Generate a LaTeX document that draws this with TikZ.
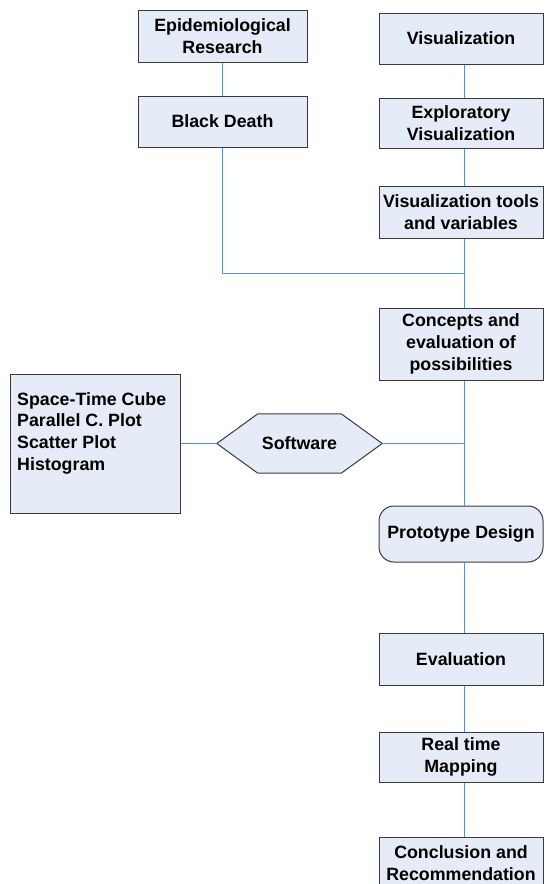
\documentclass[tikz,border=0pt]{standalone}
\usepackage{fontspec}
\setmainfont{Liberation Sans}
\usetikzlibrary{calc,backgrounds}
\definecolor{boxfill}{HTML}{E6ECF7}
\definecolor{boxline}{HTML}{3A3A3A}
\definecolor{conn}{HTML}{5F8ED6}
\begin{document}
\begin{tikzpicture}[x=1pt,y=-1pt,
  lbl/.style={font=\fontsize{17.8}{21.7}\selectfont\bfseries},
  box/.style={lbl, draw=boxline, fill=boxfill, line width=1pt, inner sep=0pt, align=center},
  rbox/.style={box, minimum width=164},
  lbox/.style={box, minimum width=169},
  link/.style={draw=conn, line width=1pt}]
\useasboundingbox (0,0) rectangle (544,884);
\coordinate (spine) at (464,0);
\coordinate (jn) at (464,273);
% left column
\node[lbox, minimum height=52] (epi) at (222.5,36) {Epidemiological\\Research};
\node[lbox, minimum height=51] (bd) at (222.5,121.5) {Black Death};
% right column
\node[rbox, minimum height=51] (vis) at (461,38.5) {Visualization};
\node[rbox, minimum height=50] (expl) at (461,123) {Exploratory\\Visualization};
\node[rbox, minimum height=52] (tools) at (461,212) {Visualization tools\\and variables};
\node[rbox, minimum height=72] (concepts) at (461,344) {Concepts and\\evaluation of\\possibilities};
\node[rbox, minimum height=56, rounded corners=15pt] (proto) at (461,534) {Prototype Design};
\node[rbox, minimum height=52] (eval) at (461,659) {Evaluation};
\node[rbox, minimum height=50] (real) at (461,757) {Real time\\Mapping};
\node[rbox, minimum height=52] (concl) at (461,863) {Conclusion and\\Recommendation};
% software list
\node[box, minimum width=170, minimum height=139] (list) at (95,443.5) {};
\node[lbl, anchor=north west, inner sep=0pt, align=left] (listtext) at (17,392)
  {Space-Time Cube\\Parallel C. Plot\\Scatter Plot\\Histogram};
% software hexagon
\node[lbl, minimum width=165, minimum height=59, inner sep=0pt] (sw) at (299.5,443.5) {Software};
\begin{scope}[on background layer]
\draw[draw=boxline, fill=boxfill, line width=1pt]
  (sw.west) -- ($(sw.north west)+(41,0)$) -- ($(sw.north east)+(-41,0)$) -- (sw.east)
  -- ($(sw.south east)+(-41,0)$) -- ($(sw.south west)+(41,0)$) -- cycle;
\end{scope}
% connectors
\draw[link] (epi) -- (bd);
\draw[link] (bd.south) |- (jn);
\draw[link] (vis.south -| spine) -- (expl.north -| spine);
\draw[link] (expl.south -| spine) -- (tools.north -| spine);
\draw[link] (tools.south -| spine) -- (concepts.north -| spine);
\draw[link] (concepts.south -| spine) -- (proto.north -| spine);
\draw[link] (sw.east) -- (sw.east -| spine);
\draw[link] (sw.west) -- (list.east);
\draw[link] (proto.south -| spine) -- (eval.north -| spine);
\draw[link] (eval.south -| spine) -- (real.north -| spine);
\draw[link] (real.south -| spine) -- (concl.north -| spine);
\end{tikzpicture}
\end{document}
